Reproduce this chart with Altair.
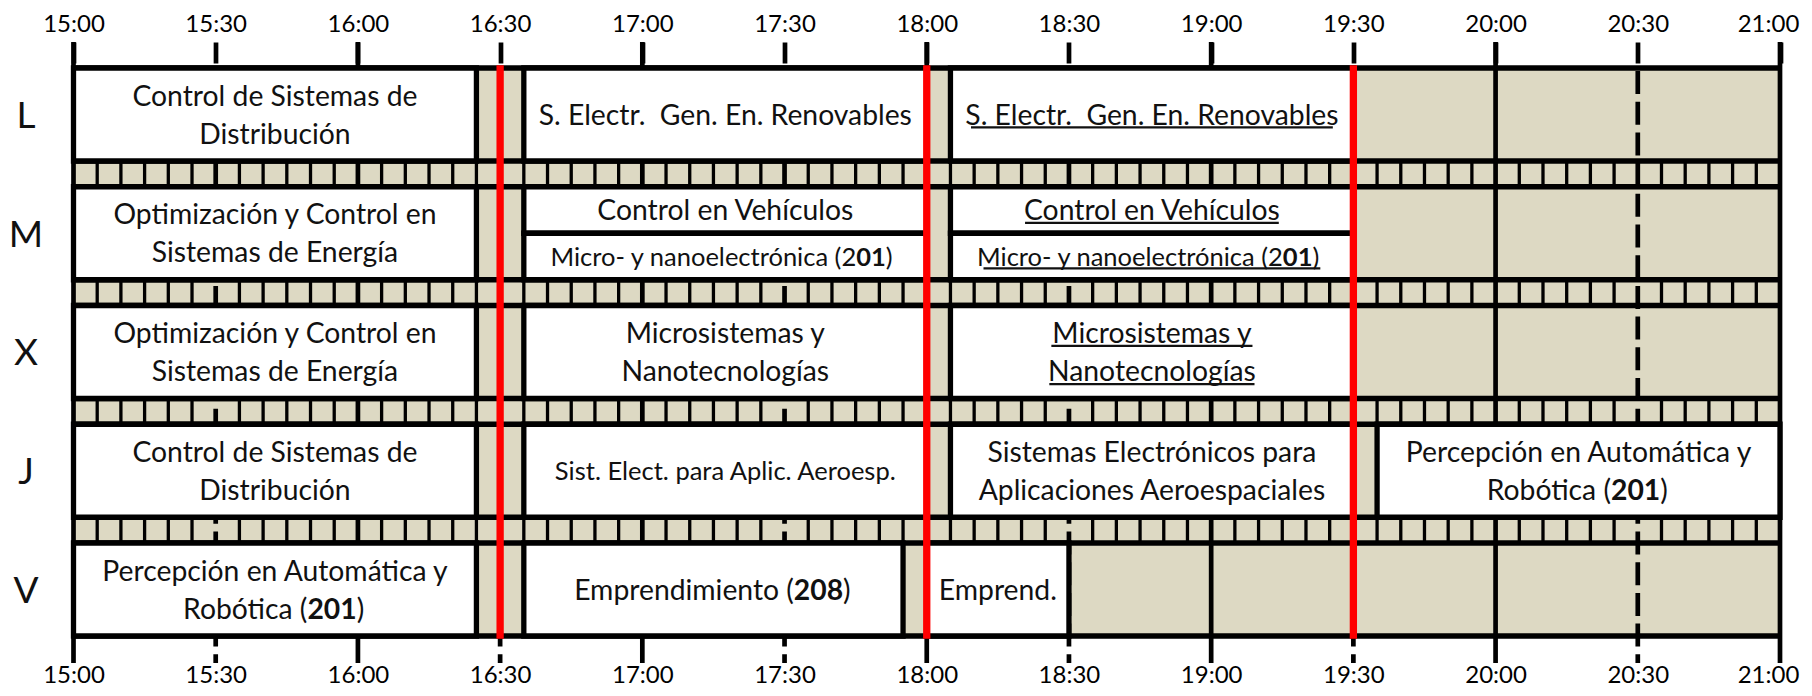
import altair as alt
import pandas as pd

# ---------------- data ----------------
DAYS = ["L", "M", "X", "J", "V"]
TICK_LABELS = ["15:00", "15:30", "16:00", "16:30", "17:00", "17:30", "18:00",
               "18:30", "19:00", "19:30", "20:00", "20:30", "21:00"]
BREAK_TIMES = ["16:30", "18:00", "19:30"]

SESSION_DAY = ["L", "L", "L", "M", "M", "M", "M", "M", "X", "X", "X",
               "J", "J", "J", "J", "V", "V", "V"]
SESSION_START = ["15:00", "16:35", "18:05", "15:00", "16:35", "16:35", "18:05", "18:05",
                 "15:00", "16:35", "18:05", "15:00", "16:35", "18:05", "19:35",
                 "15:00", "16:35", "18:00"]
SESSION_END = ["16:25", "18:00", "19:30", "16:25", "18:00", "18:00", "19:30", "19:30",
               "16:25", "18:00", "19:30", "16:25", "18:00", "19:30", "21:00",
               "16:25", "17:55", "18:30"]
SESSION_PART = ["full", "full", "full", "full", "top", "bottom", "top", "bottom",
                "full", "full", "full", "full", "full", "full", "full",
                "full", "full", "full"]
SESSION_TEXT = [
    "Control de Sistemas de\nDistribución",
    "S. Electr.\u00a0 Gen. En. Renovables",
    "S. Electr.\u00a0 Gen. En. Renovables",
    "Optimización y Control en\nSistemas de Energía",
    "Control en Vehículos",
    "Micro- y nanoelectrónica (2**01**)",
    "Control en Vehículos",
    "Micro- y nanoelectrónica (2**01**)",
    "Optimización y Control en\nSistemas de Energía",
    "Microsistemas y\nNanotecnologías",
    "Microsistemas y\u00a0\nNanotecnologías",
    "Control de Sistemas de\nDistribución",
    "Sist. Elect. para Aplic. Aeroesp.",
    "Sistemas Electrónicos para\nAplicaciones Aeroespaciales",
    "Percepción en Automática y\nRobótica (**201**)",
    "Percepción en Automática y\nRobótica (**201**)",
    "Emprendimiento (**208**)",
    "Emprend.",
]
SESSION_UNDERLINED = [False, False, True, False, False, False, True, True,
                      False, False, True, False, False, False, False,
                      False, False, False]
SESSION_SMALL = [False, False, False, False, False, True, False, True,
                 False, False, False, False, True, False, False,
                 False, False, False]

# ---------------- layout / style ----------------
W = 1706.5
ROW_H = 93.0
SEP_H = 25.75
H = 5 * ROW_H + 4 * SEP_H
PXPM = W / 360.0
FONT = "Lato"
FS_BODY = 28.3
FS_SMALL = 25.5
TXT = "#111111"
BEIGE = "#DDD9C3"

LATO = {' ': .193, '\u00a0': .193, 'a': .49, 'b': .56, 'c': .46, 'd': .56, 'e': .52,
        'f': .32, 'g': .50, 'h': .55, 'i': .24, 'j': .24, 'k': .51, 'l': .24, 'm': .83,
        'n': .55, 'o': .56, 'p': .55, 'q': .56, 'r': .37, 's': .42, 't': .35, 'u': .55,
        'v': .50, 'w': .76, 'x': .49, 'y': .50, 'z': .45, 'á': .49, 'é': .52, 'í': .24,
        'ó': .56, 'ú': .55, 'A': .68, 'B': .63, 'C': .67, 'D': .74, 'E': .56, 'F': .54,
        'G': .72, 'H': .76, 'I': .28, 'J': .38, 'K': .65, 'L': .49, 'M': .90, 'N': .76,
        'O': .80, 'P': .59, 'R': .62, 'S': .52, 'T': .58, 'U': .73, 'V': .67, 'X': .64,
        '.': .23, ',': .23, '-': .33, '(': .31, ')': .31, ':': .26}


def tw(s, fs, bold=False):
    w = 0.0
    for ch in s:
        if ch.isdigit():
            w += 0.58
        else:
            w += LATO.get(ch, 0.5) * (1.04 if bold else 1.0)
    return w * fs


def minutes(t):
    h, m = t.split(":")
    return (int(h) - 15) * 60 + int(m)


def row_top(i):
    return i * (ROW_H + SEP_H)


# ---------------- derived tables ----------------
bg = pd.DataFrame([{"x": 0, "x2": 360, "y": 0, "y2": H}])

hour_lines = pd.DataFrame([{"t": t, "y": -26.0, "y2": H + 27.0} for t in range(0, 361, 60)])
half_lines = pd.DataFrame([{"t": t, "y": 3.0, "y2": H + 27.0} for t in range(30, 360, 60)])

sep_rows = []
for i in range(len(DAYS) - 1):
    for t in range(5, 360, 5):
        if t % 30 != 0:
            sep_rows.append({"t": t, "y": row_top(i) + ROW_H, "y2": row_top(i + 1)})
sep_lines = pd.DataFrame(sep_rows)

h_rows = []
for i in range(len(DAYS)):
    h_rows.append({"y": row_top(i), "x": 0, "x2": 360})
    h_rows.append({"y": row_top(i) + ROW_H, "x": 0, "x2": 360})
hlines = pd.DataFrame(h_rows)

red = pd.DataFrame([{"t": minutes(t), "y": -2.75, "y2": H + 2.75} for t in BREAK_TIMES])

box_rows, center_rows, right_rows, bold_rows, left_rows, ul_rows = [], [], [], [], [], []
for d, s, e, part, text, ul, small in zip(SESSION_DAY, SESSION_START, SESSION_END,
                                          SESSION_PART, SESSION_TEXT,
                                          SESSION_UNDERLINED, SESSION_SMALL):
    i = DAYS.index(d)
    top = row_top(i)
    if part == "full":
        y0, y1 = top, top + ROW_H
    elif part == "top":
        y0, y1 = top, top + ROW_H / 2
    else:
        y0, y1 = top + ROW_H / 2, top + ROW_H
    x0, x1 = minutes(s), minutes(e)
    box_rows.append({"x": x0, "x2": x1, "y": y0, "y2": y1})
    fs = FS_SMALL if small else FS_BODY
    ls = 1.35 * fs
    cy = (y0 + y1) / 2
    cxpx = (x0 + x1) / 2 * PXPM
    lines = text.split("\n")
    n = len(lines)
    for k, line in enumerate(lines):
        base = cy + (k - (n - 1) / 2) * ls + 0.3585 * fs
        parts = line.split("**")
        if len(parts) == 1:
            total = tw(line, fs)
            center_rows.append({"x": cxpx / PXPM, "y": base, "text": line, "fs": fs})
        else:
            pre, b, post = parts
            wp, wb, wq = tw(pre, fs), tw(b, fs, True), tw(post, fs)
            total = wp + wb + wq
            jx = cxpx - total / 2 + wp
            right_rows.append({"x": jx / PXPM, "y": base, "text": pre, "fs": fs})
            bold_rows.append({"x": jx / PXPM, "y": base, "text": b, "fs": fs})
            left_rows.append({"x": (jx + wb) / PXPM, "y": base, "text": post, "fs": fs})
        if ul:
            ul_rows.append({"x": (cxpx - total / 2) / PXPM, "x2": (cxpx + total / 2) / PXPM,
                            "y": base + 2.8})

boxes = pd.DataFrame(box_rows)
day_labels = pd.DataFrame([{"d": d, "y": row_top(i) + ROW_H / 2 + 0.3585 * 37}
                           for i, d in enumerate(DAYS)])

# ---------------- encodings ----------------
XS = alt.Scale(domain=[0, 360], nice=False, zero=False)
YS = alt.Scale(domain=[0, H], range=[0, H], nice=False, zero=False)


def X(f="x", axis=None):
    return alt.X(f"{f}:Q", scale=XS, axis=axis)


def Y(f="y"):
    return alt.Y(f"{f}:Q", scale=YS, axis=None)


label_expr = "[" + ",".join(f"'{t}'" for t in TICK_LABELS) + "][round(datum.value/30)]"
tick_values = list(range(0, 361, 30))
label_shift = {"condition": {"test": "datum.value >= 360", "value": -12}, "value": 0}

top_axis = alt.Axis(orient="top", values=tick_values, labelExpr=label_expr,
                    domain=False, grid=False, ticks=True, tickSize=21, tickWidth=4.7,
                    tickColor="black", offset=5, labelPadding=10.3, labelFont=FONT,
                    labelFontSize=24, labelColor="black", labelBaseline="alphabetic",
                    labelAlign="center", labelOffset=label_shift, labelOverlap=False,
                    labelFlush=False, title=None)
bottom_axis = alt.Axis(orient="bottom", values=tick_values, labelExpr=label_expr,
                       domain=False, grid=False, ticks=False, tickSize=0, offset=0,
                       labelPadding=46.5, labelFont=FONT, labelFontSize=24,
                       labelColor="black", labelBaseline="alphabetic",
                       labelAlign="center", labelOffset=label_shift, labelOverlap=False,
                       labelFlush=False, title=None)

layers = []
layers.append(alt.Chart(bg).mark_rect(fill=BEIGE, strokeWidth=0).encode(
    x=X("x", top_axis), x2="x2", y=Y("y"), y2="y2"))
layers.append(alt.Chart(hour_lines).mark_rule(color="black", strokeWidth=4.7).encode(
    x=X("t", bottom_axis), y=Y("y"), y2="y2"))
layers.append(alt.Chart(half_lines).mark_rule(color="black", strokeWidth=4.7,
                                              strokeDash=[23, 7.7]).encode(
    x=X("t"), y=Y("y"), y2="y2"))
layers.append(alt.Chart(sep_lines).mark_rule(color="black", strokeWidth=3.3).encode(
    x=X("t"), y=Y("y"), y2="y2"))
layers.append(alt.Chart(hlines).mark_rule(color="black", strokeWidth=5.5).encode(
    x=X("x"), x2="x2", y=Y("y")))
layers.append(alt.Chart(boxes).mark_rect(fill="white", stroke="black", strokeWidth=5.3).encode(
    x=X("x"), x2="x2", y=Y("y"), y2="y2"))
layers.append(alt.Chart(red).mark_rule(color="#FF0000", strokeWidth=7.3).encode(
    x=X("t"), y=Y("y"), y2="y2"))


def text_layer(rows, align, weight):
    return alt.Chart(pd.DataFrame(rows)).mark_text(
        font=FONT, align=align, baseline="alphabetic", color=TXT, fontWeight=weight
    ).encode(x=X("x"), y=Y("y"), text="text:N", size=alt.Size("fs:Q", scale=None))


layers.append(text_layer(center_rows, "center", "normal"))
layers.append(text_layer(right_rows, "right", "normal"))
layers.append(text_layer(bold_rows, "left", "bold"))
layers.append(text_layer(left_rows, "left", "normal"))
layers.append(alt.Chart(pd.DataFrame(ul_rows)).mark_rule(color=TXT, strokeWidth=2.2).encode(
    x=X("x"), x2="x2", y=Y("y")))
layers.append(alt.Chart(day_labels).mark_text(
    font=FONT, fontSize=37, align="center", baseline="alphabetic", color=TXT
).encode(x=alt.value(-47.5), y=Y("y"), text="d:N"))

chart = alt.layer(*layers).resolve_axis(x="independent").properties(
    width=W, height=H,
    padding={"left": 65.5, "top": 60, "right": 20, "bottom": 52},
    autosize=alt.AutoSizeParams(type="none"),
    background="white",
).configure_view(strokeWidth=0)

chart.save("out.html", embed_options={"renderer": "svg", "actions": False})
